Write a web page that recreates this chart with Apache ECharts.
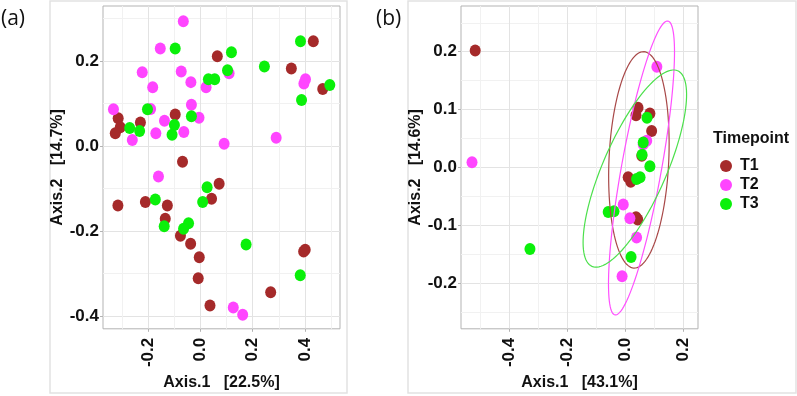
<!DOCTYPE html>
<html>
<head>
<meta charset="utf-8">
<script src="https://cdn.jsdelivr.net/npm/echarts@6/dist/echarts.min.js"></script>
<style>
html, body { margin: 0; padding: 0; background: #fff; }
#main { width: 797px; height: 396px; }
</style>
</head>
<body>
<div id="main"></div>
<script>
// groups
var groups = ['T1', 'T2', 'T3']
var colors = ['#A52A2A', '#FF45FF', '#0AF00A']
var ellipseColors = ['#A84848', '#FF50FF', '#4CE04C']

// panel (a) points  [Axis.1, Axis.2]
var a_T1 = [[0.065,0.211],[0.348,0.182],[0.432,0.246],[0.468,0.134],[-0.096,0.074],[-0.314,0.065],[-0.306,0.044],
	[-0.325,0.030],[-0.229,0.055],[-0.068,-0.037],[0.072,-0.089],[-0.315,-0.140],[-0.210,-0.132],[-0.126,-0.140],
	[0.043,-0.124],[-0.134,-0.171],[-0.076,-0.211],[-0.037,-0.230],[-0.004,-0.262],[-0.008,-0.311],[0.401,-0.244],
	[0.395,-0.248],[0.269,-0.344],[0.037,-0.375]]
var a_T2 = [[-0.065,0.293],[-0.153,0.229],[-0.222,0.173],[-0.073,0.175],[-0.036,0.150],[0.022,0.138],[0.110,0.171],
	[-0.182,0.138],[0.396,0.147],[0.402,0.157],[-0.332,0.086],[-0.190,0.087],[-0.034,0.097],[-0.005,0.066],
	[-0.137,0.059],[-0.260,0.014],[-0.170,0.030],[-0.063,0.033],[0.091,0.005],[0.290,0.019],[-0.160,-0.072],
	[0.126,-0.380],[0.162,-0.397]]
var a_T3 = [[-0.096,0.229],[0.119,0.220],[0.245,0.187],[0.383,0.246],[0.031,0.157],[0.055,0.157],[0.104,0.178],
	[0.495,0.143],[0.387,0.108],[-0.202,0.086],[-0.034,0.070],[-0.099,0.049],[-0.270,0.042],[-0.232,0.035],
	[-0.108,0.026],[0.026,-0.097],[-0.172,-0.126],[0.009,-0.132],[-0.138,-0.189],[-0.045,-0.182],[-0.064,-0.195],
	[0.175,-0.232],[0.382,-0.304]]

// panel (b) points
var b_T1 = [[-0.517,0.202],[0.045,0.103],[0.038,0.090],[0.086,0.093],[0.092,0.063],[0.058,0.020],[0.011,-0.017],
	[0.020,-0.025],[0.038,-0.086],[0.044,-0.090]]
var b_T2 = [[-0.528,0.009],[0.110,0.174],[0.075,0.046],[0.063,0.040],[-0.006,-0.064],[0.017,-0.088],[0.040,-0.121],
	[-0.010,-0.188]]
var b_T3 = [[-0.328,-0.141],[0.076,0.086],[0.063,0.043],[0.059,0.022],[0.086,0.002],[0.052,-0.017],[0.040,-0.020],
	[-0.058,-0.077],[-0.038,-0.076],[0.021,-0.155]]

// ellipses in (b): centre x, centre y, major half-axis (dx, dy), minor half-axis (dx, dy)
var ell_T1 = [0.048, 0.013, 0.017, 0.187, 0.103, -0.0024]
var ell_T2 = [0.057, -0.001, 0.0914, 0.254, 0.068, -0.006]
var ell_T3 = [0.034, -0.002, 0.148, 0.169, 0.100, -0.022]

// ticks
var xTicksA = [-0.2, 0.0, 0.2, 0.4]
var xMinorA = [-0.3, -0.1, 0.1, 0.3, 0.5]
var yTicksA = [-0.4, -0.2, 0.0, 0.2]
var yMinorA = [-0.3, -0.1, 0.1, 0.3]
var xTicksB = [-0.4, -0.2, 0.0, 0.2]
var xMinorB = [-0.5, -0.3, -0.1, 0.1]
var yTicksB = [-0.2, -0.1, 0.0, 0.1, 0.2]
var yMinorB = [-0.25, -0.15, -0.05, 0.05, 0.15, 0.25]

var FONT = 'Liberation Sans'

function mainAxis (dim, gridIndex, min, max, ticks, name) {
	var isX = dim === 'x'
	return {
		type: 'value', gridIndex: gridIndex, min: min, max: max,
		name: name, nameLocation: 'middle', nameGap: isX ? 42 : 31,
		nameTextStyle: { fontFamily: FONT, fontWeight: 'bold', fontSize: 16, color: '#111' },
		axisLine: { show: false, onZero: false },
		axisTick: { show: true, length: 3, customValues: ticks, lineStyle: { color: '#b3b3b3' } },
		axisLabel: {
			customValues: ticks, rotate: isX ? 90 : 0, margin: isX ? 9 : 4,
			fontFamily: FONT, fontWeight: 'bold', fontSize: 17, color: '#111',
			formatter: function (v) { return v.toFixed(1) }
		},
		splitLine: { show: true, lineStyle: { color: '#e3e3e3', width: 1 } }
	}
}
// hidden axis that only draws the minor grid lines
function minorAxis (gridIndex, min, max, ticks) {
	return {
		type: 'value', gridIndex: gridIndex, min: min, max: max,
		axisLine: { show: false, onZero: false },
		axisTick: { show: false, customValues: ticks },
		axisLabel: { show: false, customValues: ticks },
		splitLine: { show: true, lineStyle: { color: '#f1f1f1', width: 1 } }
	}
}

function scatter (name, data, xi, yi, color) {
	return {
		type: 'scatter', name: name, xAxisIndex: xi, yAxisIndex: yi, data: data,
		symbol: 'circle', symbolSize: [11, 12], itemStyle: { color: color, opacity: 1 },
		emphasis: { disabled: true }, z: 3
	}
}

function ellipse (name, params, color) {
	return {
		type: 'custom', name: name, xAxisIndex: 2, yAxisIndex: 2, z: 4, silent: true,
		data: [params],
		dimensions: ['x', 'y', 'ax', 'ay', 'bx', 'by'],
		encode: { x: 0, y: 1 },
		renderItem: function (p, api) {
			var cx = api.value(0), cy = api.value(1)
			var c = api.coord([cx, cy])
			var pa = api.coord([cx + api.value(2), cy + api.value(3)])
			var pb = api.coord([cx + api.value(4), cy + api.value(5)])
			var va = [pa[0] - c[0], pa[1] - c[1]], vb = [pb[0] - c[0], pb[1] - c[1]]
			var pts = []
			for (var i = 0; i <= 120; i++) {
				var t = i / 120 * Math.PI * 2
				pts.push([c[0] + va[0] * Math.cos(t) + vb[0] * Math.sin(t), c[1] + va[1] * Math.cos(t) + vb[1] * Math.sin(t)])
			}
			return { type: 'polyline', shape: { points: pts }, style: { stroke: color, fill: null, lineWidth: 1.2 } }
		}
	}
}

var chart = echarts.init(document.getElementById('main'), null, { renderer: 'canvas' })

var option = {
	animation: false,
	backgroundColor: '#fff',
	grid: [
		{ left: 103, top: 6, width: 237, height: 324, show: true, borderColor: '#b3b3b3', borderWidth: 1, backgroundColor: '#fff', containLabel: false },
		{ left: 461, top: 6, width: 237, height: 324, show: true, borderColor: '#b3b3b3', borderWidth: 1, backgroundColor: '#fff', containLabel: false }
	],
	xAxis: [
		mainAxis('x', 0, -0.372, 0.534, xTicksA, 'Axis.1   [22.5%]'),
		minorAxis(0, -0.372, 0.534, xMinorA),
		mainAxis('x', 1, -0.566, 0.252, xTicksB, 'Axis.1   [43.1%]'),
		minorAxis(1, -0.566, 0.252, xMinorB)
	],
	yAxis: [
		mainAxis('y', 0, -0.43, 0.329, yTicksA, 'Axis.2   [14.7%]'),
		minorAxis(0, -0.43, 0.329, yMinorA),
		mainAxis('y', 1, -0.279, 0.279, yTicksB, 'Axis.2   [14.6%]'),
		minorAxis(1, -0.279, 0.279, yMinorB)
	],
	legend: {
		data: groups, orient: 'vertical', left: 715, top: 153,
		icon: 'circle', itemWidth: 12, itemHeight: 12, itemGap: 3,
		textStyle: { fontFamily: FONT, fontWeight: 'bold', fontSize: 16, color: '#111', padding: [0, 0, 0, 3] },
		selectedMode: false
	},
	graphic: [
		{ type: 'rect', shape: { x: 50, y: 1, width: 297, height: 392 }, style: { fill: null, stroke: '#e2e2e2', lineWidth: 1.5 }, z: -1 },
		{ type: 'rect', shape: { x: 408, y: 1, width: 388, height: 392 }, style: { fill: null, stroke: '#e2e2e2', lineWidth: 1.5 }, z: -1 },
		{ type: 'text', left: 1, top: 9, style: { text: '(a)', fontFamily: 'Open Sans', fontSize: 21, fill: '#111' } },
		{ type: 'text', left: 376, top: 9, style: { text: '(b)', fontFamily: 'Open Sans', fontSize: 21, fill: '#111' } },
		{ type: 'text', left: 713, top: 131, style: { text: 'Timepoint', fontFamily: FONT, fontWeight: 'bold', fontSize: 16, fill: '#111' } }
	],
	series: [
		scatter('T1', a_T1, 0, 0, colors[0]),
		scatter('T2', a_T2, 0, 0, colors[1]),
		scatter('T3', a_T3, 0, 0, colors[2]),
		scatter('T1', b_T1, 2, 2, colors[0]),
		scatter('T2', b_T2, 2, 2, colors[1]),
		scatter('T3', b_T3, 2, 2, colors[2]),
		ellipse('T1 ellipse', ell_T1, ellipseColors[0]),
		ellipse('T2 ellipse', ell_T2, ellipseColors[1]),
		ellipse('T3 ellipse', ell_T3, ellipseColors[2])
	]
}
chart.setOption(option)
</script>
</body>
</html>
